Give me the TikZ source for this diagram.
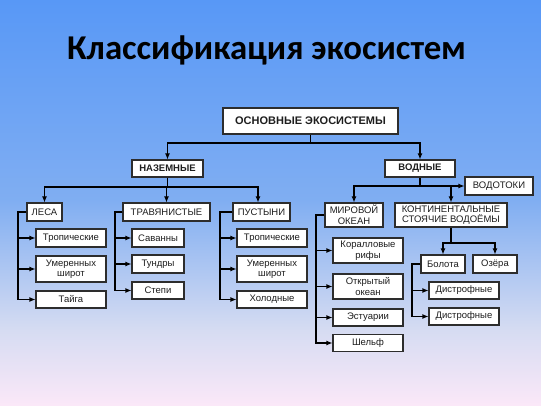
\documentclass[tikz,border=0pt]{standalone}
\usepackage{fontspec}
\setmainfont{Liberation Sans}
\newfontfamily\titlefont{Carlito}
\usetikzlibrary{arrows.meta,calc}
\definecolor{bgA}{RGB}{88,152,246}
\definecolor{bgB}{RGB}{128,174,242}
\definecolor{bgC}{RGB}{214,220,242}
\definecolor{bgD}{RGB}{251,232,248}
\definecolor{ink}{RGB}{30,30,30}
\definecolor{edge}{RGB}{45,45,45}
\tikzset{
  box/.style={draw=edge, fill=white, line width=1.1pt, inner sep=0pt, align=center,
    text=ink, font=\fontsize{9.5}{10.5}\selectfont},
  hbox/.style={box, font=\fontsize{9.5}{10.5}\selectfont\bfseries},
  link/.style={draw=black, line width=1.1pt},
  arr/.style={link, -{Latex[length=6pt,width=5pt]}},
}
\begin{document}
\begin{tikzpicture}[x=1pt,y=-1pt]
\useasboundingbox (0,0) rectangle (541,406);
\shade[top color=bgA, bottom color=bgB] (0,0) rectangle (541,200.5);
\shade[top color=bgB, bottom color=bgC] (0,200) rectangle (541,330.5);
\shade[top color=bgC, bottom color=bgD] (0,330) rectangle (541,406);

\node[font=\titlefont\fontsize{34.8}{38}\selectfont\bfseries, text=black] (title) at (266.5,50) {Классификация экосистем};

% level 1
\node[box, font=\fontsize{11}{12}\selectfont\bfseries, minimum width=175, minimum height=26] (osn) at (310.5,121) {ОСНОВНЫЕ ЭКОСИСТЕМЫ};
% level 2
\node[hbox, minimum width=71, minimum height=17] (naz) at (167.5,168.5) {НАЗЕМНЫЕ};
\node[hbox, minimum width=70, minimum height=17] (vod) at (420,168.5) {ВОДНЫЕ};
\node[box, minimum width=68, minimum height=18] (vodot) at (499,186) {ВОДОТОКИ};
% level 3
\node[box, minimum width=35, minimum height=18] (lesa) at (44.5,212) {ЛЕСА};
\node[box, minimum width=87, minimum height=18] (trav) at (166.5,212) {ТРАВЯНИСТЫЕ};
\node[box, minimum width=57, minimum height=18] (pust) at (261.5,212) {ПУСТЫНИ};
\node[box, minimum width=58, minimum height=24] (mir) at (354,215) {МИРОВОЙ\\ОКЕАН};
\node[box, minimum width=112, minimum height=24] (kont) at (451,215) {КОНТИНЕНТАЛЬНЫЕ\\СТОЯЧИЕ ВОДОЁМЫ};
% forests
\node[box, minimum width=70, minimum height=18] (trop1) at (71,238) {Тропические};
\node[box, minimum width=70, minimum height=26] (umer1) at (71,269) {Умеренных\\широт};
\node[box, minimum width=70, minimum height=17] (taiga) at (71,299.5) {Тайга};
% grasslands
\node[box, minimum width=52, minimum height=18] (sav) at (158,238) {Саванны};
\node[box, minimum width=52, minimum height=18] (tund) at (158,264) {Тундры};
\node[box, minimum width=52, minimum height=17] (stepi) at (158,290.5) {Степи};
% deserts
\node[box, minimum width=70, minimum height=18] (trop2) at (272,238) {Тропические};
\node[box, minimum width=70, minimum height=26] (umer2) at (272,269) {Умеренных\\широт};
\node[box, minimum width=70, minimum height=17] (hol) at (272,299.5) {Холодные};
% ocean
\node[box, minimum width=70, minimum height=25] (kor) at (368,250.5) {Коралловые\\рифы};
\node[box, minimum width=70, minimum height=25] (otkr) at (368,286.5) {Открытый\\океан};
\node[box, minimum width=70, minimum height=17] (est) at (368,317.5) {Эстуарии};
\node[box, minimum width=70, minimum height=17] (shelf) at (368,343) {Шельф};
% standing waters
\node[box, minimum width=44, minimum height=18] (bol) at (443,264) {Болота};
\node[box, minimum width=44, minimum height=18] (oz) at (495,264) {Озёра};
\node[box, minimum width=70, minimum height=17] (dis1) at (464,290.5) {Дистрофные};
\node[box, minimum width=70, minimum height=17] (dis2) at (464,316.5) {Дистрофные};

% junction coordinates
\coordinate (j1) at (310.5,143);
\coordinate (j2) at (167.5,187);
\coordinate (j3) at (420,186);
\coordinate (j4) at (451,243);
\coordinate (xl) at (18,0);
\coordinate (xt) at (115,0);
\coordinate (xp) at (220,0);
\coordinate (xm) at (316,0);
\coordinate (xb) at (412,0);

% level 1 -> 2
\draw[link] (osn.south) -- (j1);
\draw[arr] (j1) -| (naz.north);
\draw[arr] (j1) -| (vod.north);
% land
\draw[link] (naz.south) -- (j2);
\draw[arr] (j2) -| (lesa.north);
\draw[arr] (j2) -| (trav.north);
\draw[arr] (j2) -| ($(pust.north)+(-3.5,0)$);
% water
\draw[link] (vod.south) -- (j3);
\draw[arr] (j3) -| (mir.north);
\draw[arr] (j3) -| (kont.north);
\draw[arr] (j3) -- (vodot.west);
% brackets
\foreach \c in {trop1,umer1,taiga}{\draw[arr] (lesa.west) -- (lesa.west -| xl) |- (\c.west);}
\foreach \c in {sav,tund,stepi}{\draw[arr] (trav.west) -- (trav.west -| xt) |- (\c.west);}
\foreach \c in {trop2,umer2,hol}{\draw[arr] (pust.west) -- (pust.west -| xp) |- (\c.west);}
\foreach \c in {kor,otkr,est,shelf}{\draw[arr] (mir.west) -- (mir.west -| xm) |- (\c.west);}
% standing waters
\draw[link] (kont.south) -- (j4);
\draw[arr] (j4) -| (bol.north);
\draw[arr] (j4) -| (oz.north);
\foreach \c in {dis1,dis2}{\draw[arr] (bol.west) -- (bol.west -| xb) |- (\c.west);}
\end{tikzpicture}
\end{document}
